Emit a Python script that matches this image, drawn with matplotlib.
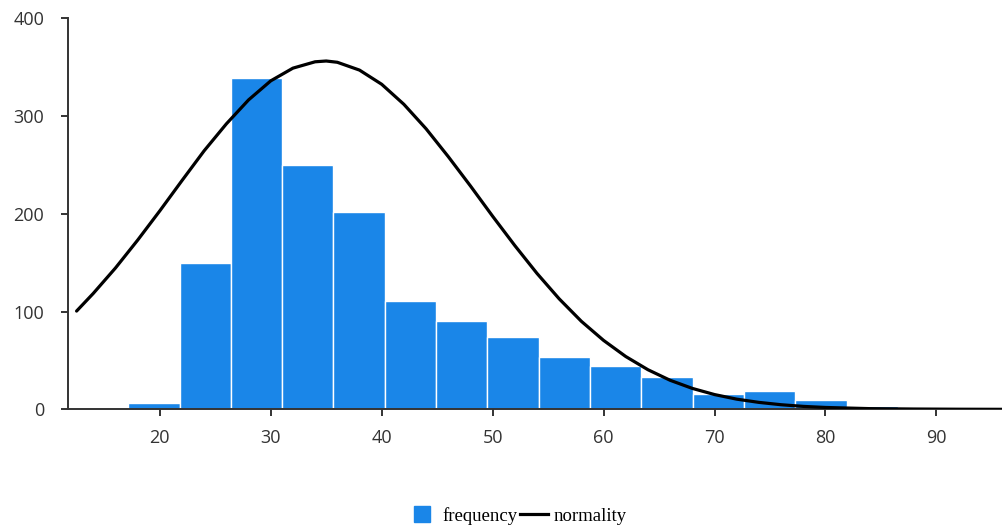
import numpy as np
import matplotlib
matplotlib.use("Agg")
import matplotlib.pyplot as plt
from matplotlib.lines import Line2D

# histogram bins (edges) and counts
bin_edges = [17.15, 21.78, 26.40, 31.03, 35.65, 40.28, 44.90, 49.53,
             54.15, 58.78, 63.40, 68.03, 72.65, 77.28, 81.90, 86.53]
counts = [6, 150, 339, 250, 202, 111, 90, 74, 54, 44, 33, 16, 19, 10, 3]

# normality curve, points (smoothed by hand)
curve_x = [12.5, 14, 16, 18, 20, 22, 24, 26, 28, 30, 32, 34, 35, 36, 38,
           40, 42, 44, 46, 48, 50, 52, 54, 56, 58, 60, 62, 64, 66, 68, 70,
           72, 74, 76, 78, 80, 84, 88, 92, 96]
curve_y = [100.5, 118.5, 144.5, 173.0, 203.0, 234.0, 264.5, 292.0, 316.5,
           336.0, 349.0, 355.5, 356.3, 355.0, 347.0, 332.5, 312.0, 287.0,
           258.5, 228.5, 197.5, 167.5, 139.0, 113.0, 90.0, 70.5, 54.0, 40.5,
           29.7, 21.4, 15.1, 10.4, 7.1, 4.7, 3.0, 1.9, 0.7, 0.3, 0.1, 0.0]

x_ticks = [20, 30, 40, 50, 60, 70, 80, 90]
y_ticks = [0, 100, 200, 300, 400]

bar_color = "#1a86e8"
axis_color = "#333333"

fig = plt.figure(figsize=(10.03, 5.27), dpi=100)
ax = fig.add_axes([0.0675, 0.2233, 0.9325, 0.742])

edges = np.array(bin_edges)
ax.bar(edges[:-1], counts, width=np.diff(edges), align="edge",
       color=bar_color, edgecolor="white", linewidth=1.0, zorder=2)
ax.plot(curve_x, curve_y, color="black", lw=2.3, zorder=3,
        solid_capstyle="round", solid_joinstyle="round")

ax.set_xlim(11.7, 96)
ax.set_ylim(0, 400)
ax.set_xticks(x_ticks)
ax.set_yticks(y_ticks)

for s in ["top", "right"]:
    ax.spines[s].set_visible(False)
for s in ["left", "bottom"]:
    ax.spines[s].set_color(axis_color)
    ax.spines[s].set_linewidth(1.4)

ax.tick_params(axis="both", colors=axis_color, length=5, width=1.4,
               labelsize=13, labelcolor="#333333")
ax.tick_params(axis="y", pad=12)
ax.tick_params(axis="x", pad=9)
for lab in ax.get_xticklabels() + ax.get_yticklabels():
    lab.set_fontfamily("Open Sans")

handles = [
    Line2D([], [], linestyle="none", marker="s", markersize=12,
           markerfacecolor=bar_color, markeredgecolor=bar_color),
    Line2D([], [], color="black", lw=2.3),
]
fig.legend(handles, ["frequency", "normality"], loc="center",
           bbox_to_anchor=(0.516, 0.021), ncol=2, frameon=False,
           handlelength=1.5, handletextpad=0.3, columnspacing=0.15,
           prop={"family": "Liberation Serif", "size": 13.5})

fig.savefig("out.png", dpi=100)
